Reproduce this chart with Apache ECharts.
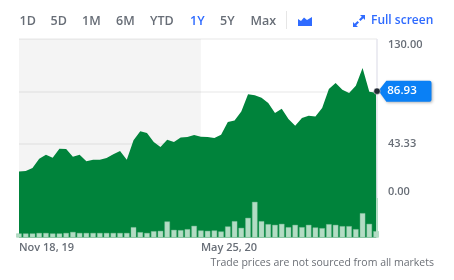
<!DOCTYPE html>
<html>
<head>
<meta charset="utf-8">
<style>html,body{margin:0;padding:0;background:#fff}#c{width:454px;height:280px}</style>
<script src="https://cdn.jsdelivr.net/npm/echarts@6/dist/echarts.min.js"></script>
</head>
<body>
<div id="c"></div>
<script>
var weekDates = ['2019-11-18','2019-11-25','2019-12-02','2019-12-09','2019-12-16','2019-12-23','2019-12-30','2020-01-06','2020-01-13','2020-01-20','2020-01-27','2020-02-03','2020-02-10','2020-02-17','2020-02-24','2020-03-02','2020-03-09','2020-03-16','2020-03-23','2020-03-30','2020-04-06','2020-04-13','2020-04-20','2020-04-27','2020-05-04','2020-05-11','2020-05-18','2020-05-25','2020-06-01','2020-06-08','2020-06-15','2020-06-22','2020-06-29','2020-07-06','2020-07-13','2020-07-20','2020-07-27','2020-08-03','2020-08-10','2020-08-17','2020-08-24','2020-08-31','2020-09-07','2020-09-14','2020-09-21','2020-09-28','2020-10-05','2020-10-12','2020-10-19','2020-10-26','2020-11-02','2020-11-09','2020-11-16','2020-11-23'];
var prices = [20.7,21,23.5,31.2,34.5,32,39.5,39.2,32.9,34.5,29,30.4,30.4,31.8,34.8,37.6,30.4,46.5,53.9,52.4,45,40.9,46.9,45,48.8,49.1,50.8,49.4,49.1,48.3,51,61.5,62.8,70.2,84.4,83.5,81.6,77.2,68.9,72.5,64,58.4,64.8,66.7,66.1,73,88.7,93.7,88.2,85.4,91.5,106,86.5,85.7];
var volumes = [4,4,4,4.5,4.5,4,4,4.5,5.5,4.5,4.5,4.5,4.5,4.5,4.5,4.5,4.5,10.3,5.3,4.5,6.3,6.6,16,7.6,7.3,8.3,11.6,7,6.6,7,6,11,16.3,9.6,19.6,35.6,16.3,13.3,12.6,13.6,10.3,12.6,10.3,12.6,10,9.3,13.3,12.6,11.3,11.3,8.3,24.3,13.6,6.3];
var lastDate = '2020-11-24';
var lastPrice = 86.93;
var lastVolume = 39.5;
var shadeEndDate = '2020-05-25';
var xTickDates = ['2019-11-18','2020-05-25'];
var xTickLabels = ['Nov 18, 19','May 25, 20'];
var yStep = 130/3, yMin = -130/3, yMax = 130, areaFloor = -33.85;
var volMin = -11.5, volMax = 198.5;
var rangeLabels = ['1D','5D','1M','6M','YTD','1Y','5Y','Max'];
var rangeX = [19.5,50.5,82,116,150,190,220,250.5];
var footnote = 'Trade prices are not sourced from all markets';

var FONT = '"Open Sans", sans-serif';
var GREY = '#686e77', BLUE = '#2f6bff';
function ts(d){return Date.UTC(+d.slice(0,4),+d.slice(5,7)-1,+d.slice(8,10));}
var priceData = weekDates.map(function(d,i){return [ts(d),prices[i]];}).concat([[ts(lastDate),lastPrice]]);
var volData = weekDates.map(function(d,i){return [ts(d),volumes[i]];});
var xTickValues = xTickDates.map(ts);

var graphics = rangeLabels.map(function(t,i){
  return {type:'text',left:rangeX[i],top:15,style:{text:t,font:'600 12.5px '+FONT,fill:t==='1Y'?BLUE:GREY}};
});
graphics.push({type:'rect',shape:{x:286,y:11,width:1,height:18},style:{fill:'#e6e6e6'}});
graphics.push({type:'polygon',shape:{points:[[298,26],[298,19],[301,21],[304,17.5],[307,20],[312,17],[312,26]]},style:{fill:BLUE}});
graphics.push({type:'polygon',shape:{points:[[360,15],[365,15],[365,20],[363.3,18.2],[360.5,21],[359,19.5],[361.8,16.7]]},style:{fill:BLUE}});
graphics.push({type:'polygon',shape:{points:[[353,27],[358,27],[356.2,25.3],[359,22.5],[357.5,21],[354.7,23.8],[353,22]]},style:{fill:BLUE}});
graphics.push({type:'text',left:371,top:15,style:{text:'Full screen',font:'600 12px '+FONT,fill:BLUE}});
graphics.push({type:'text',right:20,top:258,style:{text:footnote,font:'400 10.5px '+FONT,fill:'#6b6f76'}});

var chart = echarts.init(document.getElementById('c'),null,{renderer:'canvas'});
chart.setOption({
  animation:false,
  graphic:graphics,
  grid:{left:19,right:77,top:39,height:210},
  xAxis:[{
    type:'value',scale:true,
    min:ts(weekDates[0]),max:ts(lastDate),
    axisLine:{show:false},axisTick:{show:false},splitLine:{show:false},
    axisLabel:{
      customValues:xTickValues,
      formatter:function(v){return xTickLabels[xTickValues.indexOf(v)]||'';},
      align:'left',margin:-7,color:GREY,fontFamily:FONT,fontSize:11,fontWeight:600,hideOverlap:false
    }
  },{
    type:'value',scale:true,show:false,
    min:ts(weekDates[0]),max:ts(lastDate),splitLine:{show:false}
  }],
  yAxis:[{
    type:'value',position:'right',min:yMin,max:yMax,interval:yStep,
    axisLine:{show:false},axisTick:{show:false},
    splitLine:{show:true,showMinLine:false,lineStyle:{color:'#efefef',width:1.5}},
    axisLabel:{
      margin:11,color:GREY,fontFamily:FONT,fontSize:11,fontWeight:600,
      formatter:function(v){
        if(v>129)return '{top|130.00}';
        if(Math.abs(v)<0.01)return '{bot|0.00}';
        if(Math.abs(v-43.33)<0.1)return '43.33';
        return '';
      },
      rich:{
        top:{padding:[12,0,0,0],color:GREY,fontFamily:FONT,fontSize:11,fontWeight:600},
        bot:{padding:[0,0,10,0],color:GREY,fontFamily:FONT,fontSize:11,fontWeight:600}
      }
    }
  },{
    type:'value',position:'right',min:volMin,max:volMax,show:false,splitLine:{show:false}
  }],
  series:[{
    type:'line',name:'shade',z:1,data:[],silent:true,
    markArea:{silent:true,itemStyle:{color:'rgba(0,0,0,0.045)'},data:[[{xAxis:ts(weekDates[0]),yAxis:yMax},{xAxis:ts(shadeEndDate),yAxis:areaFloor}]]},
    markLine:{silent:true,symbol:'none',label:{show:false},lineStyle:{color:'#e6e6ee',width:1.5,type:'solid'},
      data:[[{xAxis:ts(lastDate),yAxis:yMax},{xAxis:ts(lastDate),yAxis:areaFloor}]]}
  },{
    type:'line',name:'price',z:3,data:priceData,showSymbol:false,symbol:'none',
    lineStyle:{width:0,color:'#00833b'},
    areaStyle:{color:'#00833b',opacity:1,origin:areaFloor},
    markPoint:{
      silent:true,
      data:[{
        coord:[ts(lastDate),lastPrice],
        symbol:'path://M0 10 L8 0 L52 0 Q54 0 54 2 L54 19 Q54 21 52 21 L8 21 Z',
        symbolSize:[53,21],symbolOffset:[28,0],symbolKeepAspect:false,
        itemStyle:{color:'#0a80f5',shadowColor:'rgba(0,0,0,0.3)',shadowBlur:3,shadowOffsetX:1,shadowOffsetY:1},
        label:{show:true,position:'inside',offset:[-3,0],formatter:lastPrice.toFixed(2),color:'#fff',fontFamily:FONT,fontSize:11.5,fontWeight:600}
      },{
        coord:[ts(lastDate),lastPrice],symbol:'circle',symbolSize:6.5,
        itemStyle:{color:'#222a33',borderColor:'#fff',borderWidth:0.5},label:{show:false}
      }]
    }
  },{
    type:'bar',name:'volume',yAxisIndex:1,z:4,data:volData,barWidth:5.4,clip:true,
    itemStyle:{color:'#b3dcc4',borderColor:'#7fc29d',borderWidth:0.4}
  },{
    type:'bar',name:'latest volume',xAxisIndex:1,yAxisIndex:1,z:5,data:[[ts(lastDate),lastVolume]],barWidth:2,clip:true,
    itemStyle:{color:'#b3dcc4'}
  }]
});
</script>
</body>
</html>
